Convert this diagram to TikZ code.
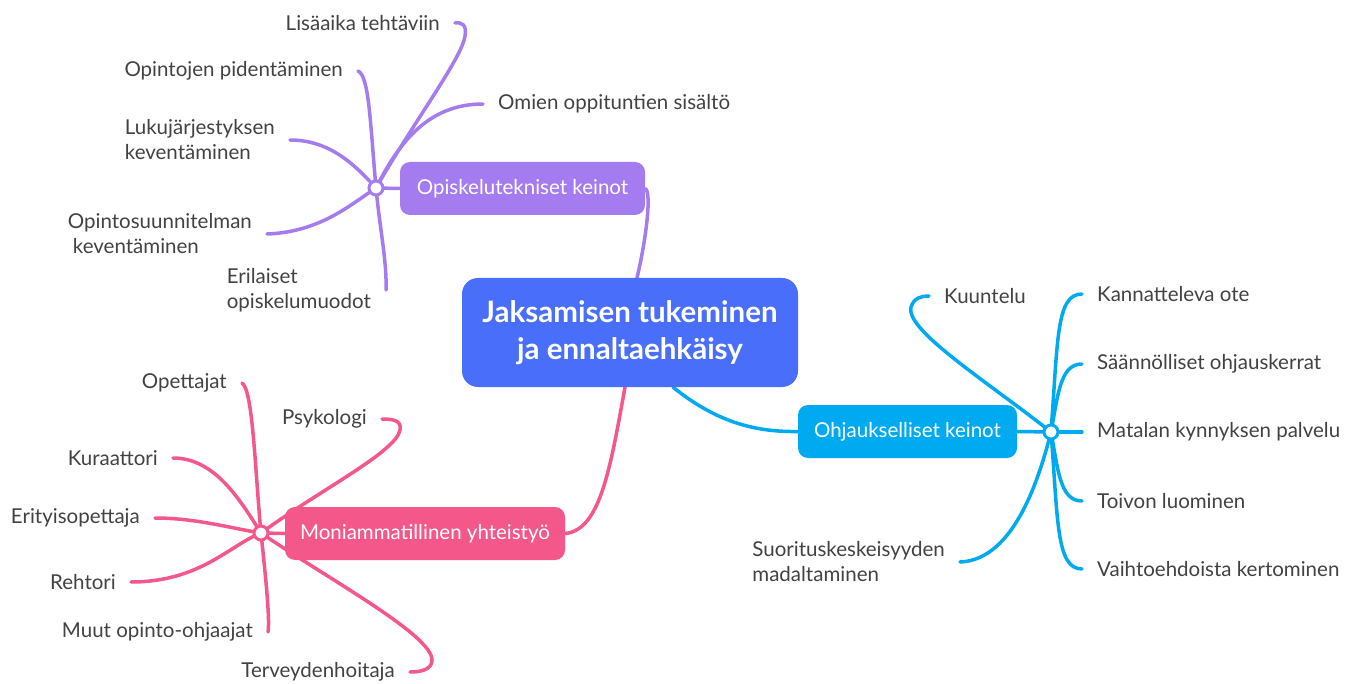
\documentclass[tikz,border=0pt]{standalone}
\usepackage{fontspec}
\setmainfont{Lato}
\usetikzlibrary{backgrounds,positioning}
\definecolor{rootblue}{RGB}{72,110,250}
\definecolor{lila}{RGB}{164,124,240}
\definecolor{taivas}{RGB}{0,170,240}
\definecolor{pinkki}{RGB}{244,87,138}
\definecolor{teksti}{RGB}{66,66,66}
\tikzset{
  root/.style={rectangle,rounded corners=16pt,fill=rootblue,text=white,
    font=\fontsize{29.5}{37}\selectfont\bfseries,align=center,
    minimum width=336pt,minimum height=109pt},
  haara/.style={rectangle,rounded corners=10pt,fill=#1,text=white,
    font=\fontsize{20.5}{25}\selectfont,minimum height=53pt},
  napa/.style={circle,draw=#1,fill=white,line width=3pt,minimum size=14pt,inner sep=0pt},
  lehti/.style={text=teksti,font=\fontsize{20.5}{25}\selectfont,align=left,
    inner xsep=15pt,inner ysep=0pt},
  viiva/.style={draw=#1,line width=3.5pt,line cap=round}
}
\begin{document}
\begin{tikzpicture}[x=1pt,y=-1pt]
  \useasboundingbox (0,0) rectangle (1357,684);
  % keskus
  \node[root] (root) at (630,332.5) {Jaksamisen tukeminen\\ja ennaltaehkäisy};
  % haarat
  \node[haara=lila,minimum width=245pt] (opis) at (522.5,188.5) {Opiskelutekniset keinot};
  \node[haara=taivas,minimum width=219pt] (ohj) at (907.5,431.5) {Ohjaukselliset keinot};
  \node[haara=pinkki,minimum width=280pt] (moni) at (425,533.5) {Moniammatillinen yhteistyö};
  \node[napa=lila] (hp) at (376,188) {};
  \node[napa=taivas] (hb) at (1051,432) {};
  \node[napa=pinkki] (hk) at (261,533) {};
  % opiskelutekniset
  \node[lehti,anchor=east] (p1) at (455,23) {Lisäaika tehtäviin};
  \node[lehti,anchor=east] (p2) at (358,71) {Opintojen pidentäminen};
  \node[lehti,anchor=west] (p3) at (483,104) {Omien oppituntien sisältö};
  \node[lehti,anchor=east] (p4) at (290,140) {Lukujärjestyksen\\keventäminen};
  \node[lehti,anchor=east] (p5) at (267,234) {Opintosuunnitelman\\\hspace{5pt}keventäminen};
  \node[lehti,anchor=east] (p6) at (386,290) {Erilaiset\\opiskelumuodot};
  % ohjaukselliset
  \node[lehti,anchor=west] (b1) at (929,296) {Kuuntelu};
  \node[lehti,anchor=west] (b2) at (1082,294) {Kannatteleva ote};
  \node[lehti,anchor=west] (b3) at (1082,364) {Säännölliset ohjauskerrat};
  \node[lehti,anchor=west] (b4) at (1082,432) {Matalan kynnyksen palvelu};
  \node[lehti,anchor=west] (b5) at (1082,501) {Toivon luominen};
  \node[lehti,anchor=west] (b6) at (1082,569) {Vaihtoehdoista kertominen};
  \node[lehti,anchor=east] (b7) at (960,562) {Suorituskeskeisyyden\\madaltaminen};
  % moniammatillinen
  \node[lehti,anchor=east] (k1) at (242,383) {Opettajat};
  \node[lehti,anchor=east] (k2) at (382,419) {Psykologi};
  \node[lehti,anchor=east] (k3) at (173,458) {Kuraattori};
  \node[lehti,anchor=east] (k4) at (155,518) {Erityisopettaja};
  \node[lehti,anchor=east] (k5) at (131,582) {Rehtori};
  \node[lehti,anchor=east] (k6) at (268,632) {Muut opinto-ohjaajat};
  \node[lehti,anchor=east] (k7) at (410,672) {Terveydenhoitaja};
  \begin{scope}[on background layer]
    % keskukselta haaroille
    \draw[viiva=lila] ([xshift=7pt]root.north) .. controls (646,240) and (652,192) .. (opis.east);
    \draw[viiva=taivas] ([xshift=43pt]root.south) .. controls (720,425) and (760,432) .. (ohj.west);
    \draw[viiva=pinkki] ([xshift=-5pt]root.south) .. controls (610,470) and (600,530) .. (moni.east);
    \draw[viiva=lila] (hp.center) -- (opis.west);
    \draw[viiva=taivas] (hb.center) -- (ohj.east);
    \draw[viiva=pinkki] (hk.center) -- (moni.west);
    % lila lehdet
    \draw[viiva=lila] (hp.center) .. controls (415,120) and (462,58) .. (465,36)
      .. controls (467,25) and (462,22) .. (p1.east);
    \draw[viiva=lila] (hp.center) .. controls (370,120) and (369,76) .. (p2.east);
    \draw[viiva=lila] (hp.center) .. controls (400,140) and (430,104) .. (p3.west);
    \draw[viiva=lila] (hp.center) .. controls (355,165) and (330,140) .. (p4.east);
    \draw[viiva=lila] (hp.center) .. controls (350,205) and (320,232) .. (p5.east);
    \draw[viiva=lila] (hp.center) .. controls (380,230) and (387,262) .. (p6.east);
    % sininen lehdet
    \draw[viiva=taivas] (hb.center) .. controls (985,380) and (905,330) .. (911,307)
      .. controls (914,298) and (921,296) .. (b1.west);
    \draw[viiva=taivas] (hb.center) .. controls (1058,340) and (1056,294) .. (b2.west);
    \draw[viiva=taivas] (hb.center) .. controls (1058,395) and (1060,364) .. (b3.west);
    \draw[viiva=taivas] (hb.center) -- (b4.west);
    \draw[viiva=taivas] (hb.center) .. controls (1058,470) and (1060,501) .. (b5.west);
    \draw[viiva=taivas] (hb.center) .. controls (1058,520) and (1056,569) .. (b6.west);
    \draw[viiva=taivas] (hb.center) .. controls (1040,475) and (1015,560) .. (b7.east);
    % pinkit lehdet
    \draw[viiva=pinkki] (hk.center) .. controls (255,470) and (253,390) .. (k1.east);
    \draw[viiva=pinkki] (hk.center) .. controls (320,490) and (396,452) .. (400,430)
      .. controls (402,420) and (392,419) .. (k2.east);
    \draw[viiva=pinkki] (hk.center) .. controls (240,500) and (215,458) .. (k3.east);
    \draw[viiva=pinkki] (hk.center) .. controls (230,528) and (195,518) .. (k4.east);
    \draw[viiva=pinkki] (hk.center) .. controls (230,545) and (200,582) .. (k5.east);
    \draw[viiva=pinkki] (hk.center) .. controls (266,580) and (270,620) .. (k6.east);
    \draw[viiva=pinkki] (hk.center) .. controls (330,580) and (432,635) .. (432,660)
      .. controls (432,670) and (420,672) .. (k7.east);
  \end{scope}
\end{tikzpicture}
\end{document}
